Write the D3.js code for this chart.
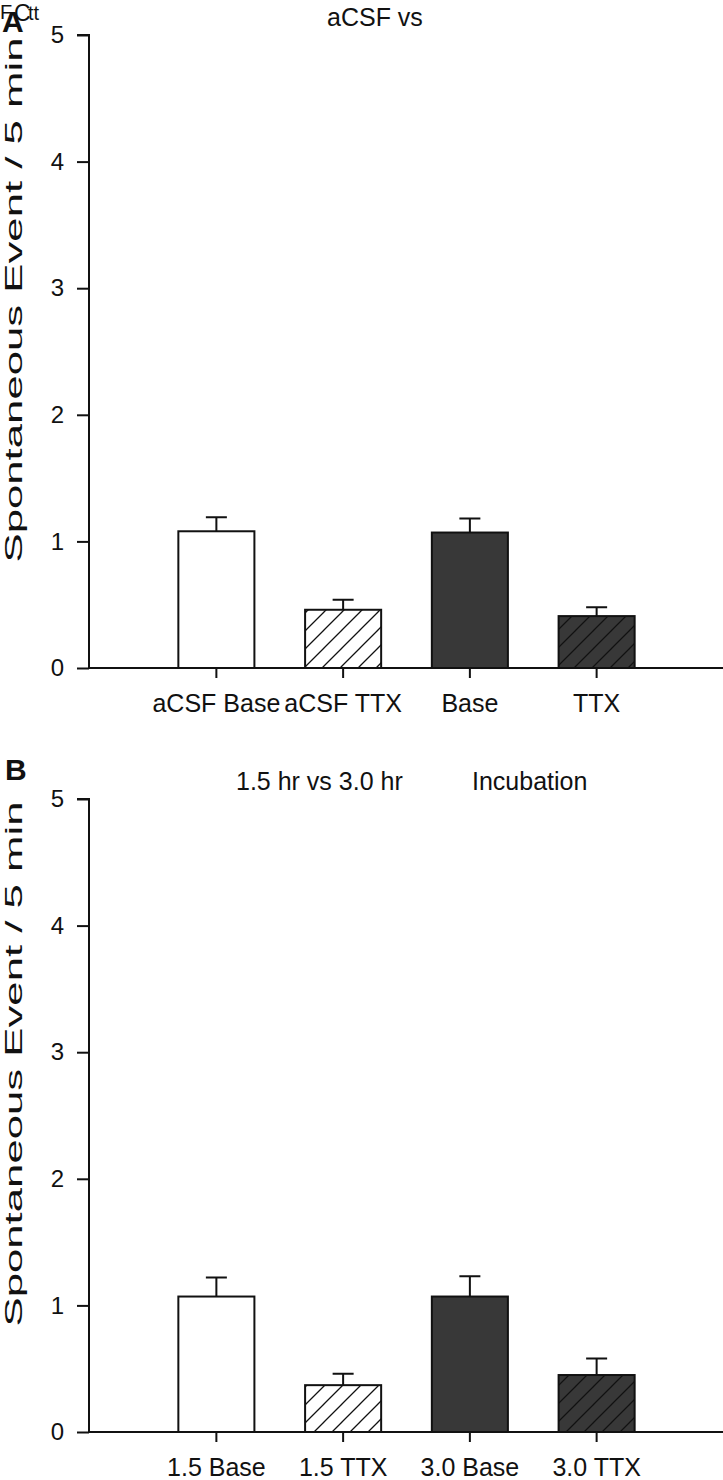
<!DOCTYPE html>
<html>
<head>
<meta charset="utf-8">
<script src="https://cdn.jsdelivr.net/npm/d3@7"></script>
<style>
	html, body {margin: 0; padding: 0; background: #fff;}
	svg {display: block;}
	text {font-family: "Liberation Sans", Arial, sans-serif; fill: #111;}
</style>
</head>
<body>
<svg id="chart" width="723" height="1480"></svg>
<script>
'use strict';

// panel A
var catsA = ['aCSF Base', 'aCSF TTX', 'Base', 'TTX'];
var meansA = [1.08, 0.46, 1.07, 0.41];
var semA = [0.11, 0.08, 0.11, 0.07];

// panel B
var catsB = ['1.5 Base', '1.5 TTX', '3.0 Base', '3.0 TTX'];
var meansB = [1.07, 0.37, 1.07, 0.45];
var semB = [0.15, 0.09, 0.16, 0.13];

var yTicks = [0, 1, 2, 3, 4, 5];
var fills = ['white', 'hatch-light', '#383838', 'hatch-dark'];
var yLabel = 'Spontaneous Event / 5 min';

var svg = d3.select('#chart');
var defs = svg.append('defs');

function makeHatch(id, bg) {
	var p = defs.append('pattern')
		.attr('id', id)
		.attr('patternUnits', 'userSpaceOnUse')
		.attr('width', 18).attr('height', 18);
	p.append('rect').attr('width', 18).attr('height', 18).attr('fill', bg);
	// diagonal "/" lines, with corner pieces so they tile
	p.append('path')
		.attr('d', 'M0,18 L18,0 M-4.5,4.5 L4.5,-4.5 M13.5,22.5 L22.5,13.5')
		.attr('stroke', '#111').attr('stroke-width', 1.3);}
makeHatch('hatch-light', 'white');
makeHatch('hatch-dark', '#383838');

function fillFor(f) {
	return f.indexOf('hatch') === 0 ? 'url(#' + f + ')' : f;}

function panel(cfg) {
	var g = svg.append('g');
	var x = d3.scaleBand()
		.domain(cfg.cats)
		.range([153, 660])
		.paddingInner(0.4)
		.paddingOuter(0.2);
	var y = d3.scaleLinear().domain([0, 5]).range([cfg.y0, cfg.y0 - 633]);

	// bars
	g.selectAll('rect.bar').data(cfg.means).enter().append('rect')
		.attr('class', 'bar')
		.attr('x', function(d, i) {return x(cfg.cats[i]);})
		.attr('y', function(d) {return y(d);})
		.attr('width', x.bandwidth())
		.attr('height', function(d) {return y(0) - y(d);})
		.attr('fill', function(d, i) {return fillFor(fills[i]);})
		.attr('stroke', '#111').attr('stroke-width', 2);

	// error bars (upper only)
	var cx = function(i) {return x(cfg.cats[i]) + x.bandwidth() / 2;};
	g.selectAll('path.err').data(cfg.means).enter().append('path')
		.attr('class', 'err')
		.attr('d', function(d, i) {
			var top = y(d + cfg.sem[i]);
			return 'M' + cx(i) + ',' + y(d) + 'V' + top +
				'M' + (cx(i) - 10.5) + ',' + top + 'H' + (cx(i) + 10.5);})
		.attr('fill', 'none').attr('stroke', '#111').attr('stroke-width', 2);

	// y axis
	var yAxis = g.append('g')
		.attr('transform', 'translate(89,0)')
		.call(d3.axisLeft(y).tickValues(yTicks).tickSize(12).tickPadding(13)
			.tickFormat(d3.format('d')));
	yAxis.select('.domain').attr('d', 'M0,' + y(0) + 'V' + y(5) + 'H-12');
	yAxis.selectAll('path, line').attr('stroke', '#111').attr('stroke-width', 2);
	yAxis.selectAll('text').attr('font-size', 24).attr('fill', '#111')
		.attr('font-family', '"Liberation Sans", Arial, sans-serif');

	// x axis
	var xAxis = g.append('g')
		.attr('transform', 'translate(0,' + y(0) + ')')
		.call(d3.axisBottom(x).tickSize(10).tickPadding(16).tickSizeOuter(0));
	xAxis.select('.domain').attr('d', 'M89,0H723');
	xAxis.selectAll('path, line').attr('stroke', '#111').attr('stroke-width', 2);
	xAxis.selectAll('text').attr('font-size', 25).attr('fill', '#111')
		.attr('font-family', '"Liberation Sans", Arial, sans-serif');

	// axis title, stretched along the axis like the original
	g.append('text')
		.attr('transform', 'translate(22,' + (y(5) + 265) + ') rotate(-90)')
		.attr('text-anchor', 'middle')
		.attr('font-size', 24)
		.attr('textLength', 525)
		.attr('lengthAdjust', 'spacingAndGlyphs')
		.text(yLabel);

	// panel titles
	cfg.titles.forEach(function(t) {
		g.append('text')
			.attr('x', t.x).attr('y', y(5) - 9)
			.attr('font-size', 25)
			.text(t.text);});

	g.append('text')
		.attr('x', cfg.letterX).attr('y', y(5) - 3 - cfg.letterUp)
		.attr('font-size', 30).attr('font-weight', 'bold')
		.text(cfg.letter);
	return g;}

panel({cats: catsA, means: meansA, sem: semA, y0: 668,
	titles: [{x: 327, text: 'aCSF vs'}],
	letter: 'A', letterX: 2, letterUp: 0});

panel({cats: catsB, means: meansB, sem: semB, y0: 1432,
	titles: [{x: 236, text: '1.5 hr vs 3.0 hr'}, {x: 472, text: 'Incubation'}],
	letter: 'B', letterX: 5, letterUp: 16});

// stray overprinted glyphs in the top-left corner
svg.append('text').attr('x', 0).attr('y', 19).attr('font-size', 20).text('F');
svg.append('text').attr('x', 14).attr('y', 21).attr('font-size', 23).text('C');
svg.append('text').attr('x', 28).attr('y', 20).attr('font-size', 20).text('tt');
</script>
</body>
</html>
